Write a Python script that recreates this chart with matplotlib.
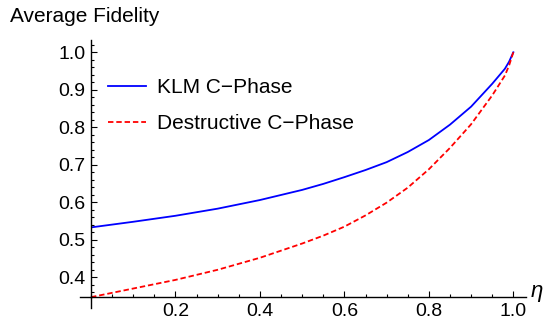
import matplotlib.pyplot as plt
from matplotlib.ticker import MultipleLocator

plt.rcParams['font.family'] = ['Liberation Sans', 'DejaVu Sans']

# values
eta = [0.0, 0.1, 0.2, 0.3, 0.4, 0.5, 0.55, 0.6, 0.65, 0.7, 0.75, 0.8, 0.85, 0.9, 0.95, 0.98, 0.99, 1.0]
klm = [0.533, 0.548, 0.564, 0.583, 0.606, 0.633, 0.649, 0.667, 0.686, 0.707, 0.734, 0.766, 0.807, 0.855,
       0.916, 0.956, 0.975, 1.0]
destructive = [0.347, 0.370, 0.393, 0.420, 0.452, 0.490, 0.511, 0.535, 0.565, 0.599, 0.639, 0.688, 0.745, 0.808,
               0.885, 0.938, 0.965, 1.0]
x_ticks = [0.2, 0.4, 0.6, 0.8, 1.0]
y_ticks = [0.4, 0.5, 0.6, 0.7, 0.8, 0.9, 1.0]

fig = plt.figure(figsize=(5.49, 3.19), dpi=100)
ax = fig.add_axes([91 / 549, 21.7 / 319, 435 / 549, 257.4 / 319])

ax.plot(eta, klm, color=(0, 0, 1), lw=1.3, label="KLM C\u2212Phase")
ax.plot(eta, destructive, color=(1, 0, 0), lw=1.3, ls=(0, (3, 1.6)), label="Destructive C\u2212Phase")

ax.set_xlim(0, 1.03)
ax.set_ylim(0.3466, 1.033)
ax.set_xticks(x_ticks)
ax.set_yticks(y_ticks)
ax.set_xticklabels([f"{t:.1f}" for t in x_ticks])
ax.set_yticklabels([f"{t:.1f}" for t in y_ticks])
ax.xaxis.set_minor_locator(MultipleLocator(0.05))
ax.yaxis.set_minor_locator(MultipleLocator(0.02))
ax.tick_params(which='both', direction='in', labelsize=14, width=0.8)
ax.tick_params(which='major', length=4)
ax.tick_params(which='minor', length=2)
ax.tick_params(axis='x', pad=4)
ax.tick_params(axis='y', pad=4)

for s in ['top', 'right']:
    ax.spines[s].set_visible(False)
for s in ['left', 'bottom']:
    ax.spines[s].set_linewidth(1.0)

# axes cross a little past the origin, like the original
ax.plot([0, 0], [-0.04, 0], transform=ax.transAxes, color='k', lw=1.0, clip_on=False)
ax.plot([-0.025, 0], [0, 0], transform=ax.transAxes, color='k', lw=1.0, clip_on=False)

fig.text(10 / 549, 1 - 17 / 319, "Average Fidelity", fontsize=15, va='center', ha='left')
fig.text(537 / 549, 1 - 291 / 319, "\u03b7", fontsize=16, style='italic', va='center', ha='center')

ax.legend(loc='upper left', bbox_to_anchor=(108 / 549, 1 - 78 / 319), bbox_transform=fig.transFigure,
          frameon=False, fontsize=15, borderpad=0, borderaxespad=0,
          handlelength=1.8, handletextpad=0.55, labelspacing=0.82)

fig.savefig("out.png", dpi=100)
